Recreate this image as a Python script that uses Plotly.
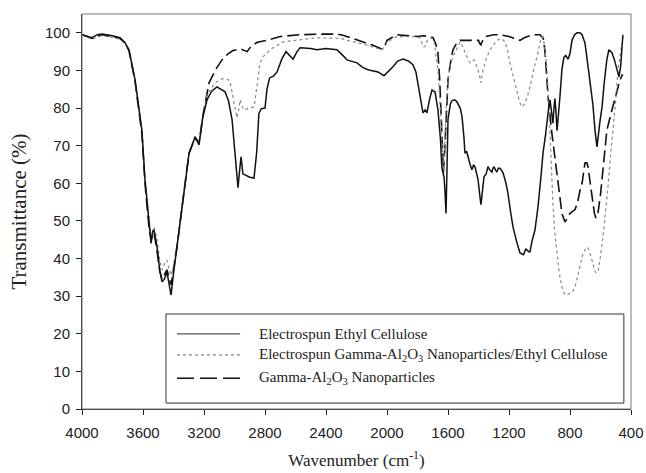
import plotly.graph_objects as go

# ---------------- data ----------------
ec_wn = [4000, 3960, 3934, 3900, 3869, 3800, 3751, 3720, 3692, 3652, 3607, 3587, 3560, 3547, 3538, 3528,
         3508, 3490, 3475, 3460, 3443, 3428, 3416, 3400, 3377, 3344, 3298, 3270, 3259, 3245, 3233, 3207,
         3180, 3150, 3115, 3062, 3040, 3016, 2995, 2977, 2965, 2957, 2945, 2931, 2900, 2872, 2855, 2840,
         2825, 2800, 2787, 2770, 2745, 2721, 2690, 2662, 2640, 2616, 2590, 2570, 2500, 2459, 2400, 2328,
         2290, 2262, 2197, 2160, 2125, 2059, 2020, 1990, 1961, 1930, 1895, 1860, 1830, 1810, 1797, 1780,
         1764, 1750, 1738, 1720, 1705, 1695, 1685, 1666, 1650, 1640, 1626, 1620, 1613, 1606, 1600, 1585,
         1574, 1555, 1541, 1520, 1508, 1495, 1489, 1478, 1469, 1455, 1443, 1433, 1423, 1410, 1403, 1392,
         1384, 1374, 1364, 1350, 1338, 1325, 1312, 1305, 1298, 1288, 1279, 1270, 1259, 1250, 1239, 1220,
         1207, 1190, 1174, 1150, 1128, 1105, 1090, 1082, 1070, 1062, 1050, 1030, 1010, 990, 977, 960,
         951, 940, 931, 920, 912, 905, 899, 892, 885, 866, 853, 840, 828, 813, 800, 787, 770, 754, 735,
         721, 702, 688, 669, 650, 636, 623, 605, 590, 575, 558, 545, 525, 510, 498, 479, 468, 459, 453]
ec_t = [99.5, 99.0, 98.7, 99.5, 99.7, 99.2, 98.7, 97.5, 95.5, 87.5, 74.0, 61.0, 49.5, 44.0, 47.0, 47.6,
        43.0, 37.0, 33.8, 34.5, 36.4, 33.0, 30.3, 36.0, 43.0, 53.7, 68.0, 71.0, 72.3, 71.5, 70.2, 77.7,
        82.2, 84.5, 85.6, 84.3, 82.0, 76.9, 68.0, 58.8, 64.0, 67.0, 62.5, 62.2, 61.6, 61.4, 68.0, 78.5,
        79.8, 80.0, 85.0, 88.0, 88.5, 89.6, 93.0, 95.0, 94.0, 93.0, 95.0, 96.0, 95.8, 95.5, 95.8, 95.5,
        94.0, 92.8, 92.0, 90.8, 90.2, 89.6, 88.6, 89.8, 91.0, 92.5, 93.0, 92.5, 91.5, 89.5, 86.7, 82.0,
        78.7, 79.5, 78.7, 82.5, 84.8, 84.5, 84.3, 79.5, 72.0, 64.0, 61.7, 58.0, 52.0, 65.0, 77.0, 81.0,
        82.0, 82.2, 81.6, 80.0, 77.7, 72.0, 68.0, 68.5, 67.0, 65.0, 63.6, 64.8, 64.4, 62.5, 61.0, 57.0,
        54.3, 58.0, 61.7, 62.5, 64.4, 63.5, 63.0, 64.0, 64.4, 63.5, 63.0, 64.0, 64.0, 63.5, 62.8, 60.0,
        57.4, 52.5, 48.4, 44.5, 41.5, 41.0, 42.5, 42.3, 41.8, 41.8, 44.5, 47.5, 53.7, 62.0, 68.0, 73.0,
        77.0, 80.0, 82.2, 79.0, 76.0, 80.0, 82.5, 79.0, 74.0, 83.0, 90.2, 93.5, 94.0, 93.0, 94.5, 98.0,
        99.5, 100.0, 100.0, 99.5, 97.3, 93.0, 87.5, 81.0, 74.0, 69.7, 76.0, 80.3, 87.0, 93.0, 95.5, 94.7,
        93.0, 91.0, 88.3, 91.0, 95.5, 99.5]

np_wn = [4000, 3934, 3869, 3800, 3751, 3720, 3692, 3652, 3607, 3587, 3560, 3547, 3528, 3508, 3490, 3475,
         3443, 3416, 3400, 3377, 3344, 3298, 3259, 3233, 3207, 3180, 3167, 3120, 3082, 3040, 3010, 2960,
         2918, 2890, 2850, 2787, 2700, 2570, 2374, 2300, 2262, 2200, 2157, 2100, 2033, 2010, 2000, 1934,
         1803, 1760, 1720, 1698, 1680, 1666, 1655, 1645, 1635, 1630, 1620, 1610, 1600, 1580, 1567, 1540,
         1521, 1456, 1400, 1390, 1384, 1378, 1357, 1300, 1259, 1200, 1160, 1128, 1100, 1043, 997, 975,
         964, 944, 918, 885, 853, 833, 815, 800, 767, 750, 735, 721, 702, 690, 682, 670, 656, 640, 630,
         617, 600, 590, 570, 558, 525, 492, 472, 455]
np_t = [99.5, 98.5, 99.5, 99.0, 98.5, 97.3, 95.3, 87.0, 73.0, 60.0, 48.0, 45.0, 47.0, 42.0, 36.5, 34.5,
        37.0, 33.0, 37.0, 43.0, 53.7, 68.0, 72.0, 70.5, 78.0, 84.0, 86.7, 90.5, 92.8, 94.5, 95.3, 95.7,
        95.0, 96.5, 97.5, 98.0, 99.0, 99.5, 99.7, 99.5, 99.0, 98.0, 97.6, 96.8, 95.7, 97.0, 98.0, 99.5,
        99.0, 99.2, 99.0, 98.7, 97.0, 94.7, 88.0, 77.0, 68.0, 63.0, 70.0, 80.0, 87.5, 93.0, 95.5, 97.5,
        98.0, 98.0, 98.0, 97.0, 96.8, 97.5, 99.0, 99.5, 99.5, 99.0, 98.5, 98.0, 98.7, 99.5, 99.5, 98.5,
        95.0, 83.0, 73.0, 61.7, 52.0, 49.7, 51.0, 52.0, 53.0, 55.0, 58.0, 60.0, 65.4, 65.5, 64.4, 61.0,
        57.4, 52.0, 50.8, 52.0, 57.0, 61.0, 70.0, 74.2, 79.5, 84.8, 87.5, 89.0]

cp_wn = [4000, 3934, 3869, 3800, 3751, 3720, 3692, 3652, 3607, 3587, 3560, 3547, 3528, 3508, 3490, 3475,
         3460, 3443, 3428, 3416, 3400, 3377, 3344, 3298, 3259, 3233, 3207, 3180, 3128, 3080, 3062, 3040,
         3029, 3015, 3003, 2984, 2970, 2964, 2950, 2938, 2905, 2872, 2852, 2833, 2813, 2767, 2682, 2459,
         2300, 2262, 2157, 2100, 2033, 2010, 2000, 1934, 1803, 1780, 1764, 1751, 1735, 1710, 1690, 1666,
         1650, 1640, 1630, 1620, 1610, 1600, 1585, 1567, 1540, 1521, 1505, 1489, 1470, 1456, 1443, 1430,
         1410, 1395, 1384, 1371, 1350, 1325, 1279, 1250, 1226, 1210, 1194, 1170, 1148, 1130, 1115, 1100,
         1082, 1060, 1043, 1025, 1010, 990, 977, 965, 951, 940, 931, 920, 912, 900, 885, 870, 853, 833,
         815, 800, 785, 767, 750, 735, 720, 702, 682, 670, 656, 640, 630, 617, 600, 584, 570, 551, 535,
         518, 500, 486, 472, 459]
cp_t = [99.5, 98.3, 99.3, 98.8, 98.3, 97.3, 95.3, 87.5, 74.0, 61.0, 50.0, 46.0, 48.5, 45.0, 39.5, 37.0,
        38.5, 39.6, 37.0, 35.5, 38.0, 44.0, 54.0, 68.5, 72.5, 71.0, 78.5, 83.5, 86.7, 87.8, 87.8, 87.5,
        87.0, 84.0, 82.2, 77.4, 80.0, 82.2, 80.5, 79.5, 80.0, 80.3, 86.0, 92.0, 93.6, 95.5, 97.6, 98.7,
        98.5, 98.0, 97.0, 96.3, 95.5, 96.5, 97.6, 99.0, 99.0, 98.5, 96.3, 96.3, 98.0, 98.7, 97.5, 90.0,
        80.0, 72.3, 61.7, 72.3, 82.0, 87.5, 92.0, 93.6, 96.0, 97.6, 96.5, 94.7, 93.0, 92.0, 92.5, 92.8,
        91.0, 89.0, 86.7, 90.0, 93.0, 95.5, 98.0, 98.5, 97.6, 95.5, 92.0, 88.0, 84.8, 81.5, 80.3, 81.0,
        82.7, 86.0, 89.4, 92.0, 94.7, 98.7, 99.0, 96.0, 90.0, 82.0, 72.3, 63.0, 54.8, 47.0, 41.5, 36.0,
        32.4, 30.3, 30.5, 30.8, 31.0, 32.4, 35.0, 37.8, 40.5, 42.3, 43.0, 41.5, 39.6, 37.0, 36.2, 36.4,
        40.5, 45.7, 51.0, 59.0, 67.0, 74.2, 82.0, 90.0, 94.0, 97.3]

x_ticks = [4000, 3600, 3200, 2800, 2400, 2000, 1600, 1200, 800, 400]
y_ticks = [0, 10, 20, 30, 40, 50, 60, 70, 80, 90, 100]

names = ["Electrospun Ethyl Cellulose",
         "Electrospun Gamma-Al<sub>2</sub>O<sub>3</sub> Nanoparticles/Ethyl Cellulose",
         "Gamma-Al<sub>2</sub>O<sub>3</sub> Nanoparticles"]

# ---------------- figure ----------------
SERIF = "Liberation Serif, Times New Roman, serif"
SANS = "Liberation Sans, Arial, sans-serif"

fig = go.Figure()
fig.add_trace(go.Scatter(x=np_wn, y=np_t, mode="lines", name=names[2],
                         line=dict(color="#111111", width=1.6, dash="12px,5px")))
fig.add_trace(go.Scatter(x=cp_wn, y=cp_t, mode="lines", name=names[1],
                         line=dict(color="#888888", width=1.2, dash="dot")))
fig.add_trace(go.Scatter(x=ec_wn, y=ec_t, mode="lines", name=names[0],
                         line=dict(color="#111111", width=1.5)))

fig.update_layout(
    width=646, height=473,
    margin=dict(l=82, r=15, t=14, b=64),
    paper_bgcolor="white", plot_bgcolor="white",
    showlegend=False,
    xaxis=dict(range=[4000, 400], tickvals=x_ticks, ticks="outside", ticklen=5,
               tickcolor="#222", showline=True, linecolor="#222", linewidth=1,
               showgrid=False, zeroline=False, ticklabelstandoff=5, automargin=False,
               tickfont=dict(family=SANS, size=15, color="#222"),
               title=dict(text="Wavenumber (cm<sup>-1</sup>)", standoff=14,
                          font=dict(family=SERIF, size=17, color="#222"))),
    yaxis=dict(range=[0, 105], tickvals=y_ticks, ticks="outside", ticklen=5,
               tickcolor="#222", showline=True, linecolor="#222", linewidth=1,
               showgrid=False, zeroline=False, ticklabelstandoff=3, automargin=False,
               tickfont=dict(family=SANS, size=15, color="#222"),
               title=dict(text="Transmittance (%)", standoff=12,
                          font=dict(family=SERIF, size=21, color="#222"))),
)

# frame (top/right border)
fig.add_shape(type="rect", xref="paper", yref="paper", x0=0, x1=1, y0=0, y1=1,
              line=dict(color="#777777", width=1), layer="above")

# custom legend box
fig.add_shape(type="rect", xref="paper", yref="paper", x0=0.153, x1=0.987, y0=0.015, y1=0.2405,
              line=dict(color="#333333", width=1), fillcolor="white", layer="above")
leg_y = [0.190, 0.137, 0.078]
leg_style = [dict(color="#555555", width=1.2),
             dict(color="#888888", width=1.2, dash="dot"),
             dict(color="#111111", width=1.6, dash="17px,6px")]
for yy, st, nm in zip(leg_y, leg_style, names):
    fig.add_shape(type="line", xref="paper", yref="paper", x0=0.173, x1=0.288, y0=yy, y1=yy,
                  line=st, layer="above")
    fig.add_annotation(xref="paper", yref="paper", x=0.319, y=yy, xanchor="left", yanchor="middle",
                       text=nm, showarrow=False, font=dict(family=SERIF, size=15, color="#222"))

fig.write_html("out.html")
